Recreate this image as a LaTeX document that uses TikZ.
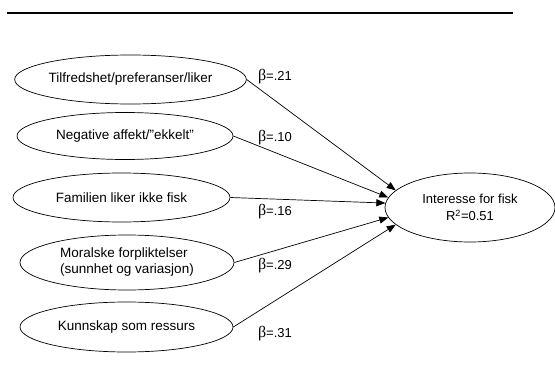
\documentclass[tikz,border=0pt]{standalone}
\usepackage{fontspec}
\setmainfont{Liberation Sans}
\newfontfamily\betafont{Liberation Serif}
\usetikzlibrary{arrows.meta,shapes.geometric}
\tikzset{
  factor/.style={draw, ellipse, inner sep=0pt, font=\fontsize{13.5}{16}\selectfont},
  coef/.style={inner sep=0pt, font=\fontsize{13}{15}\selectfont},
}
\newcommand{\coefb}[1]{{\betafont\fontsize{16}{16}\selectfont β}=.#1}

\begin{document}
\begin{tikzpicture}[x=1pt,y=-1pt,line width=0.7pt,>={Triangle[length=9pt,width=7pt]}]
\useasboundingbox (0,0) rectangle (555,380);
\draw[line width=2pt] (7,13) -- (513,13);
% factors
\node(1) at (130.5,79.5) [factor,minimum width=215pt,minimum height=49pt] {Tilfredshet/preferanser/liker};
\node(2) at (125,136) [factor,minimum width=216pt,minimum height=47pt] {Negative affekt/”ekkelt”};
\node(3) at (121.5,197.5) [factor,minimum width=217pt,minimum height=49pt] {Familien liker ikke fisk};
\node(4) at (127,262.5) [factor,minimum width=214pt,minimum height=55pt,align=left] {Moralske forpliktelser\\(sunnhet og variasjon)};
\node(5) at (126.5,327) [factor,minimum width=213pt,minimum height=50pt] {Kunnskap som ressurs};
\node(6) at (470,207.5) [factor,minimum width=170pt,minimum height=69pt,align=center,font=\fontsize{13}{17}\selectfont] {Interesse for fisk\\R\textsuperscript{2}=0.51};
% coefficients
\node(11) at (275,77) [coef] {\coefb{21}};
\node(21) at (275,138) [coef] {\coefb{10}};
\node(31) at (275,212) [coef] {\coefb{16}};
\node(41) at (275,266) [coef] {\coefb{29}};
\node(51) at (275,334) [coef] {\coefb{31}};
\draw[->] (1.east) to (6.167);
\draw[->] (2.east) to (6.173);
\draw[->] (3.east) to (6.177);
\draw[->] (4.east) to (6.187);
\draw[->] (5.east) to (6.193);
\end{tikzpicture}
\end{document}
